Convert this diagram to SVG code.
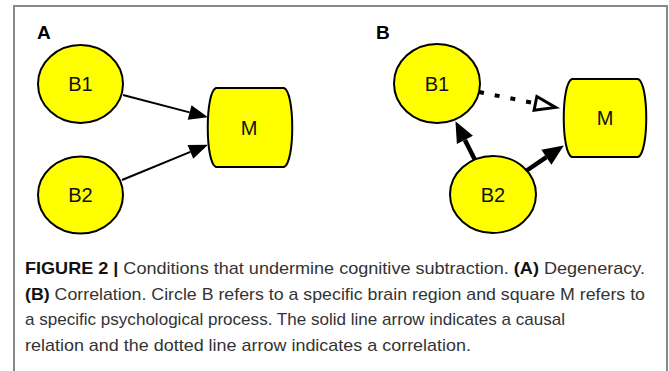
<svg xmlns="http://www.w3.org/2000/svg" width="669" height="371" viewBox="0 0 669 371">
<style>
.node{fill:#ffff00;stroke:#000;stroke-width:2}
.lbl{font-family:"Liberation Sans",Arial,sans-serif;font-size:20px;fill:#111;text-anchor:middle}
.panel{font-family:"Liberation Sans",Arial,sans-serif;font-size:19px;font-weight:bold;fill:#000}
.thin{stroke:#000;stroke-width:2;fill:none}
.thick{stroke:#000;stroke-width:4.5;fill:none}
.dot{stroke:#000;stroke-width:4;fill:none;stroke-dasharray:5 11}
.cap{font-family:"Liberation Sans",Arial,sans-serif;font-size:17px;fill:#333}
.b{font-weight:bold;fill:#111}
</style>
<defs>
<marker id="ahA" markerUnits="userSpaceOnUse" markerWidth="19" markerHeight="15" refX="0" refY="7.5" orient="auto" overflow="visible"><path d="M0,0 L19,7.5 L0,15 Z" fill="#000"/></marker>
<marker id="ahB" markerUnits="userSpaceOnUse" markerWidth="21" markerHeight="18" refX="0" refY="9" orient="auto" overflow="visible"><path d="M0,0 L21,9 L0,18 Z" fill="#000"/></marker>
<marker id="ahH" markerUnits="userSpaceOnUse" markerWidth="24" markerHeight="17" refX="0" refY="8.5" orient="auto" overflow="visible"><path d="M1.5,1.5 L22,8.5 L1.5,15.5 Z" fill="#fff" stroke="#000" stroke-width="3" stroke-linejoin="miter"/></marker>
</defs>
<rect x="14" y="6" width="653" height="380" fill="#fff" stroke="#888" stroke-width="2"/>
<text class="panel" x="37" y="39">A</text>
<text class="panel" x="376" y="39">B</text>
<g id="connectors">
<line class="thin" x1="123" y1="95" x2="189.6" y2="112.4" marker-end="url(#ahA)"/>
<line class="thin" x1="122" y1="180" x2="190.4" y2="151.9" marker-end="url(#ahA)"/>
<line class="dot" x1="479" y1="92" x2="534" y2="103.1" marker-end="url(#ahH)"/>
<line class="thick" x1="475" y1="160" x2="464.9" y2="139.9" marker-end="url(#ahB)"/>
<line class="thick" x1="526" y1="171" x2="546.4" y2="157.2" marker-end="url(#ahB)"/>
</g>
<g id="A-B1"><ellipse class="node" cx="80.5" cy="84" rx="42.5" ry="39"/><text class="lbl" x="80.5" y="91">B1</text></g>
<g id="A-B2"><ellipse class="node" cx="80.5" cy="195" rx="42.5" ry="38.5"/><text class="lbl" x="80.5" y="202">B2</text></g>
<g id="A-M"><path class="node" d="M216,88 H284 C295,92 295,163 284,167 H216 C205,163 205,92 216,88 Z"/><text class="lbl" x="249" y="135">M</text></g>
<g id="B-B1"><ellipse class="node" cx="437" cy="83.5" rx="43" ry="39.5"/><text class="lbl" x="437" y="91">B1</text></g>
<g id="B-B2"><ellipse class="node" cx="493" cy="194.5" rx="43" ry="38.5"/><text class="lbl" x="493" y="202">B2</text></g>
<g id="B-M"><path class="node" d="M572,79 H638 C649,83 649,153 638,157 H572 C561,153 561,83 572,79 Z"/><text class="lbl" x="605" y="125">M</text></g>
<g id="caption">
<text class="cap" x="25" y="274" textLength="620" lengthAdjust="spacingAndGlyphs"><tspan class="b">FIGURE 2 |</tspan> Conditions that undermine cognitive subtraction. <tspan class="b">(A)</tspan> Degeneracy.</text>
<text class="cap" x="25" y="300" textLength="620" lengthAdjust="spacingAndGlyphs"><tspan class="b">(B)</tspan> Correlation. Circle B refers to a specific brain region and square M refers to</text>
<text class="cap" x="25" y="325" textLength="540" lengthAdjust="spacingAndGlyphs">a specific psychological process. The solid line arrow indicates a causal</text>
<text class="cap" x="25" y="351" textLength="446" lengthAdjust="spacingAndGlyphs">relation and the dotted line arrow indicates a correlation.</text>
</g>
</svg>
